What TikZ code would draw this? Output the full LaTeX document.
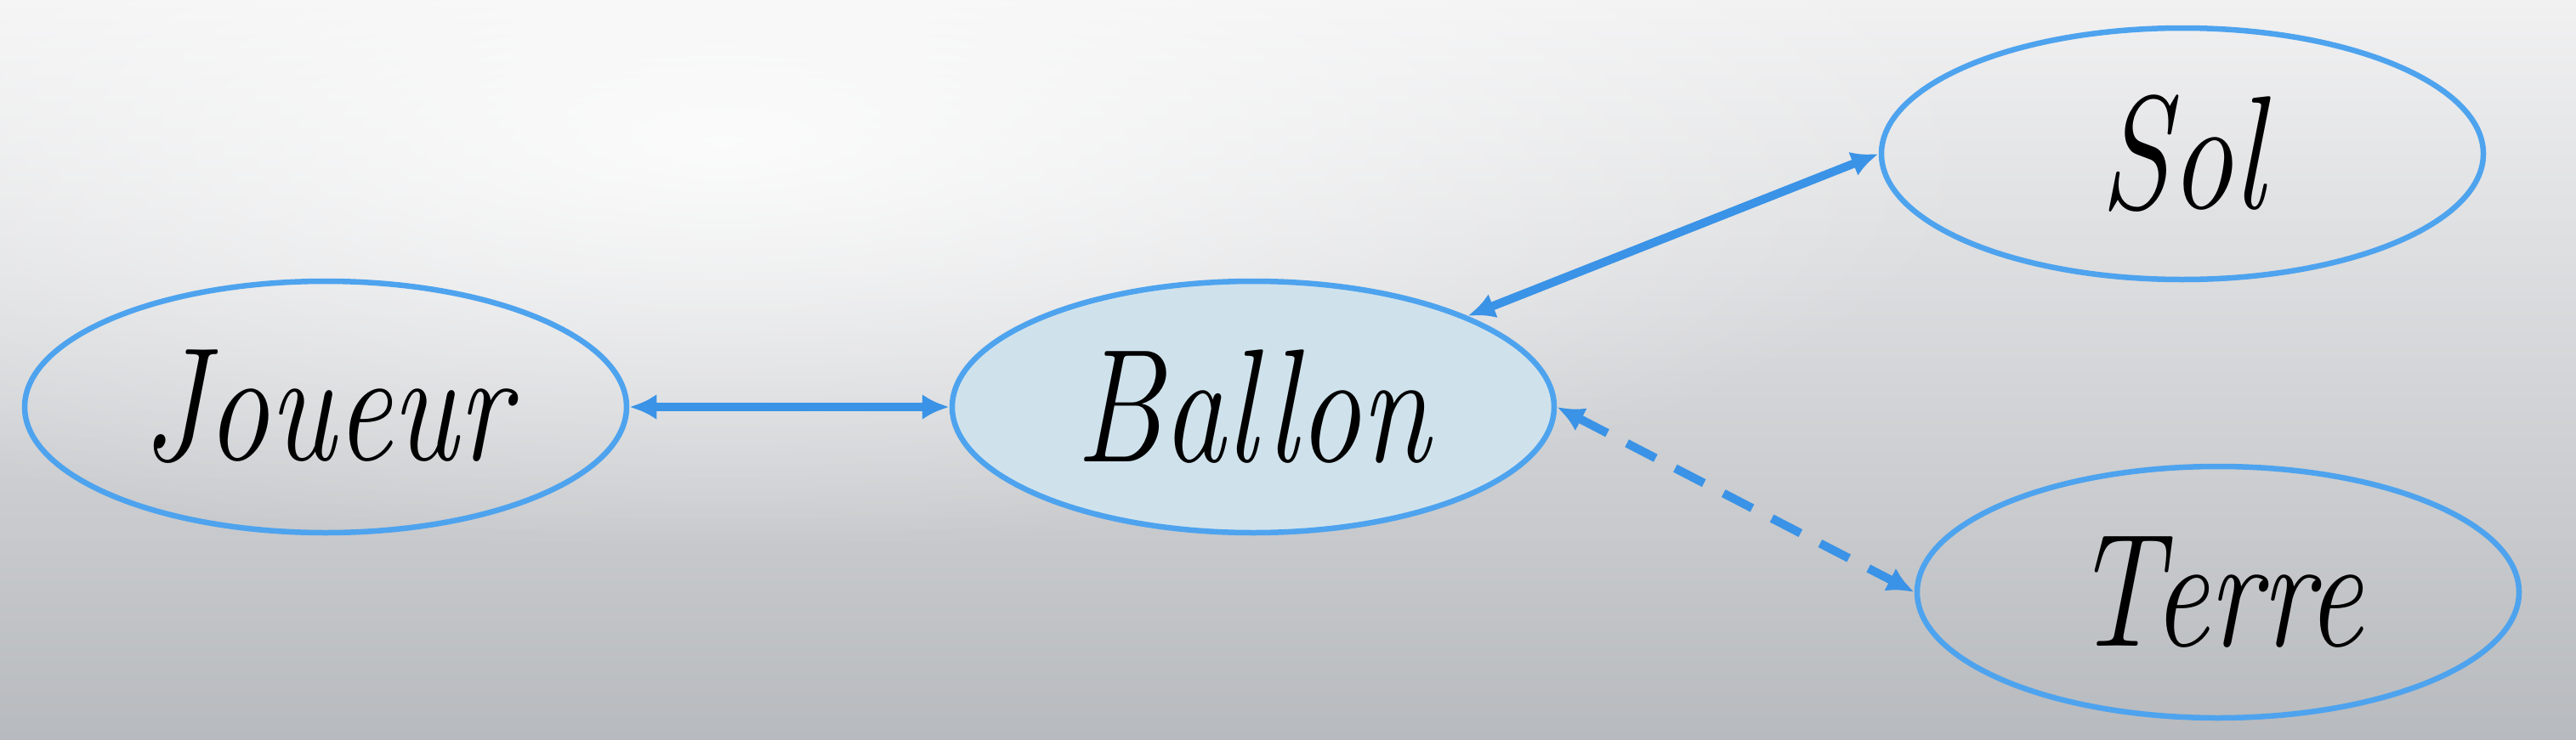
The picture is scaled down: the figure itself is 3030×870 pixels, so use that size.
\documentclass[tikz,border=0pt]{standalone}
\usepackage{graphicx}
\usetikzlibrary{arrows.meta,fadings,shapes.geometric}
\definecolor{edgeblue}{HTML}{3A93E6}
\definecolor{ringblue}{HTML}{4EA3EE}
\definecolor{ballfill}{HTML}{CFE2EC}
\definecolor{bgtop}{HTML}{F1F1F2}
\definecolor{bgbot}{HTML}{B7BABE}
\tikzfading[name=glowfade, inner color=transparent!0, outer color=transparent!100]
\newcommand{\lbltxt}[1]{\scalebox{0.78}[1]{#1}}
\begin{document}
\begin{tikzpicture}[x=1pt,y=-1pt,
  entity/.style={ellipse, draw=ringblue, line width=6.5pt, minimum width=708pt,
    minimum height=296pt, inner sep=0pt,
    font=\fontsize{190}{190}\selectfont\itshape},
  link/.style={draw=edgeblue, line width=10pt,
    {Latex[length=32pt,width=30pt]}-{Latex[length=32pt,width=30pt]}},
  dashlink/.style={link, dash pattern=on 38pt off 26pt}
]
\useasboundingbox (0,0) rectangle (3030,870);
\shade[top color=bgtop, bottom color=bgbot] (0,0) rectangle (3030,870);
\fill[white, opacity=0.85, path fading=glowfade] (850,170) ellipse (1500 and 480);

\node[entity] (J) at (383,479) {\lbltxt{Joueur}};
\node[entity, fill=ballfill] (B) at (1474,479) {\lbltxt{Ballon}};
\node[entity] (S) at (2567,181) {\lbltxt{Sol}};
\node[entity] (T) at (2609,697) {\lbltxt{Terre}};

\draw[link] (J.east) -- (B.west);
\draw[link] (B.23) -- (S.west);
\draw[dashlink] (B.east) -- (T.west);
\end{tikzpicture}
\end{document}
